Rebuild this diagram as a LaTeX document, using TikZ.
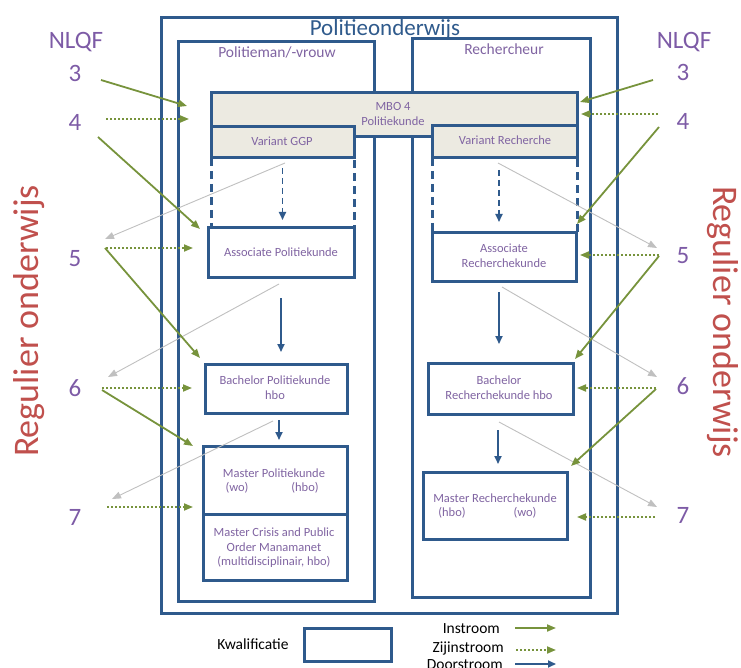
\documentclass[tikz,border=0pt]{standalone}
\usepackage{fontspec}
\setmainfont{Carlito}
\usetikzlibrary{arrows.meta}
\definecolor{dblue}{HTML}{2F5A8C}
\definecolor{purp}{HTML}{8064A2}
\definecolor{npurp}{HTML}{7D5BA6}
\definecolor{rred}{HTML}{C0504D}
\definecolor{grn}{HTML}{77933C}
\definecolor{gry}{HTML}{C0C0C0}
\definecolor{beige}{HTML}{ECEAE1}
\begin{document}
\begin{tikzpicture}[x=1pt,y=-1pt,
  bx/.style={draw=dblue, line width=3pt, rectangle, inner sep=0pt, outer sep=0pt},
  bxw/.style={bx, fill=white},
  bxb/.style={bx, fill=beige},
  dbx/.style={draw=dblue, line width=3pt, dash pattern=on 8pt off 5pt},
  lbl/.style={anchor=base, text=purp, font=\fontsize{12.5}{14}\selectfont, inner sep=0pt},
  hdr/.style={anchor=base, text=purp, font=\fontsize{15.5}{17}\selectfont, inner sep=0pt},
  num/.style={anchor=base, text=npurp, font=\fontsize{25}{28}\selectfont, inner sep=0pt},
  reg/.style={anchor=base, text=rred, font=\fontsize{36}{40}\selectfont, inner sep=0pt},
  leg/.style={anchor=base east, text=black, font=\fontsize{15.5}{17}\selectfont, inner sep=0pt},
  door/.style={draw=dblue, line width=1.8pt, -{Triangle[length=8pt,width=7pt]}},
  doord/.style={door, dash pattern=on 6pt off 4pt},
  inst/.style={draw=grn, line width=1.8pt, -{Triangle[length=9pt,width=7pt]}},
  zij/.style={draw=grn, line width=1.8pt, dash pattern=on 2pt off 2pt, -{Triangle[length=9pt,width=7pt]}},
  gar/.style={draw=gry, line width=0.9pt, -{Triangle[length=9pt,width=7pt]}}
]
\useasboundingbox (0,0) rectangle (741,668);

% frames
\node[bxw, minimum width=456pt, minimum height=595pt] (outer) at (389,315.5) {};
\node[anchor=base, text=dblue, font=\fontsize{23}{26}\selectfont, inner sep=0pt] (title) at (385,36) {Politieonderwijs};
\node[bxw, minimum width=196pt, minimum height=559pt] (lcol) at (276,321.5) {};
\node[bxw, minimum width=178pt, minimum height=558pt] (rcol) at (501,318) {};
\node[hdr] (lhdr) at (277,58) {Politieman/-vrouw};
\node[hdr] (rhdr) at (504,55) {Rechercheur};

% MBO and variants
\node[bxb, minimum width=366pt, minimum height=44pt] (mbo) at (394,115) {};
\node[lbl] (mbot1) at (393,111) {MBO 4};
\node[lbl] (mbot2) at (393,126) {Politiekunde};
\node[bxb, minimum width=143pt, minimum height=31pt] (vggp) at (282.5,142.5) {};
\node[lbl] (vggpt) at (282,146) {Variant GGP};
\node[bxb, minimum width=145pt, minimum height=32pt] (vrech) at (504.5,142) {};
\node[lbl] (vrecht) at (505,145) {Variant Recherche};

% associates
\node[bxw, minimum width=146pt, minimum height=49pt] (assp) at (281,252.5) {};
\node[lbl] (asspt) at (281,257) {Associate Politiekunde};
\node[bxw, minimum width=144pt, minimum height=48pt] (assr) at (504,257) {};
\node[lbl] (assrt1) at (504,253) {Associate};
\node[lbl] (assrt2) at (504,268) {Recherchekunde};
\draw[dbx] (211,158) rectangle (354,228);
\draw[dbx] (432,158) rectangle (577,233);

% bachelors
\node[bxw, minimum width=142pt, minimum height=49pt] (bachp) at (276,388.5) {};
\node[lbl] (bachpt1) at (275,384) {Bachelor Politiekunde};
\node[lbl] (bachpt2) at (275,399) {hbo};
\node[bxw, minimum width=145pt, minimum height=51pt] (bachr) at (500.5,388.5) {};
\node[lbl] (bachrt1) at (499,384) {Bachelor};
\node[lbl] (bachrt2) at (499,399) {Recherchekunde hbo};

% masters
\node[bxw, minimum width=144pt, minimum height=68pt] (mastp) at (275,480) {};
\node[lbl] (mastpt1) at (274,477) {Master Politiekunde};
\node[lbl] (mastpt2) at (237,491) {(wo)};
\node[lbl] (mastpt3) at (305,491) {(hbo)};
\node[bxw, minimum width=144pt, minimum height=66pt] (mastc) at (275,547) {};
\node[lbl] (mastct1) at (274,536) {Master Crisis and Public};
\node[lbl] (mastct2) at (274,551) {Order Manamanet};
\node[lbl] (mastct3) at (274,565) {(multidisciplinair, hbo)};
\node[bxw, minimum width=144pt, minimum height=67pt] (mastr) at (495,505.5) {};
\node[lbl] (mastrt1) at (495,502) {Master Recherchekunde};
\node[lbl] (mastrt2) at (452,516) {(hbo)};
\node[lbl] (mastrt3) at (525,516) {(wo)};

% doorstroom arrows
\draw[doord, shorten <=10pt, shorten >=8pt] (vggp.south) -- (vggp.south |- assp.north);
\draw[door, shorten <=21pt, shorten >=12pt] (assp.south) -- (assp.south |- bachp.north);
\draw[door, shorten <=7pt, shorten >=6pt] ([xshift=3pt]bachp.south) -- ([xshift=3pt]bachp.south |- mastp.north);
\draw[doord, shorten <=12pt, shorten >=11pt] ([xshift=-5.5pt]vrech.south) -- ([xshift=-5.5pt]vrech.south |- assr.north);
\draw[door, shorten <=11pt, shorten >=19pt] ([xshift=-5pt]assr.south) -- ([xshift=-5pt]assr.south |- bachr.north);
\draw[door, shorten <=16pt, shorten >=8pt] ([xshift=-2.5pt]bachr.south) -- ([xshift=-2.5pt]bachr.south |- mastr.north);

% side labels
\node[num] (nlqfl) at (76,49) {NLQF};
\node[num] (l3) at (75,82) {3};
\node[num] (l4) at (75,131) {4};
\node[num] (l5) at (75,266) {5};
\node[num] (l6) at (75,396) {6};
\node[num] (l7) at (75,525) {7};
\node[num] (nlqfr) at (684,49) {NLQF};
\node[num] (r3) at (683,81) {3};
\node[num] (r4) at (683,130) {4};
\node[num] (r5) at (683,264) {5};
\node[num] (r6) at (683,394) {6};
\node[num] (r7) at (683,523) {7};
\node[reg, rotate=90] (regl) at (38,321) {Regulier onderwijs};
\node[reg, rotate=-90] (regr) at (713,322) {Regulier onderwijs};

% connector end points
\coordinate (la3s) at (101,80);  \coordinate (la3e) at (187,106);
\coordinate (lz4s) at (106,119); \coordinate (lz4e) at (189,119);
\coordinate (la4s) at (98,137);  \coordinate (la4e) at (200,229);
\coordinate (lz5s) at (106,248); \coordinate (lz5e) at (193,248);
\coordinate (la5s) at (105,248); \coordinate (la5e) at (200,358);
\coordinate (lz6s) at (102,388); \coordinate (lz6e) at (192,388);
\coordinate (la6s) at (102,390); \coordinate (la6e) at (193,446);
\coordinate (lz7s) at (107,507); \coordinate (lz7e) at (193,507);
\coordinate (lg1s) at (285,163); \coordinate (lg1e) at (105,239);
\coordinate (lg2s) at (279,284); \coordinate (lg2e) at (108,377);
\coordinate (lg3s) at (273,421); \coordinate (lg3e) at (112,499);
\coordinate (ra3s) at (653,80);  \coordinate (ra3e) at (580,102);
\coordinate (rz4s) at (658,114); \coordinate (rz4e) at (581,114);
\coordinate (ra4s) at (659,127); \coordinate (ra4e) at (577,224);
\coordinate (rz5s) at (659,255); \coordinate (rz5e) at (580,255);
\coordinate (ra5s) at (659,256); \coordinate (ra5e) at (575,359);
\coordinate (rz6s) at (656,388); \coordinate (rz6e) at (577,388);
\coordinate (ra6s) at (656,389); \coordinate (ra6e) at (571,466);
\coordinate (rz7s) at (655,517); \coordinate (rz7e) at (577,517);
\coordinate (rg1s) at (498,163); \coordinate (rg1e) at (657,248);
\coordinate (rg2s) at (502,287); \coordinate (rg2e) at (657,377);
\coordinate (rg3s) at (499,422); \coordinate (rg3e) at (657,507);

% gray arrows
\draw[gar] (lg1s) -- (lg1e);
\draw[gar] (lg2s) -- (lg2e);
\draw[gar] (lg3s) -- (lg3e);
\draw[gar] (rg1s) -- (rg1e);
\draw[gar] (rg2s) -- (rg2e);
\draw[gar] (rg3s) -- (rg3e);

% green arrows
\draw[inst] (la3s) -- (la3e);
\draw[zij] (lz4s) -- (lz4e);
\draw[inst] (la4s) -- (la4e);
\draw[zij] (lz5s) -- (lz5e);
\draw[inst] (la5s) -- (la5e);
\draw[zij] (lz6s) -- (lz6e);
\draw[inst] (la6s) -- (la6e);
\draw[zij] (lz7s) -- (lz7e);
\draw[inst] (ra3s) -- (ra3e);
\draw[zij] (rz4s) -- (rz4e);
\draw[inst] (ra4s) -- (ra4e);
\draw[zij] (rz5s) -- (rz5e);
\draw[inst] (ra5s) -- (ra5e);
\draw[zij] (rz6s) -- (rz6e);
\draw[inst] (ra6s) -- (ra6e);
\draw[zij] (rz7s) -- (rz7e);

% legend
\node[anchor=base, font=\fontsize{15.5}{17}\selectfont, inner sep=0pt] (kwal) at (253,649) {Kwalificatie};
\node[bxw, minimum width=87pt, minimum height=33pt] (legbox) at (347.5,644.5) {};
\node[leg] (legi) at (500,633) {Instroom};
\node[leg] (legz) at (504,652) {Zijinstroom};
\node[leg] (legd) at (503,669) {Doorstroom};
\coordinate (li1) at (515,628); \coordinate (li2) at (556,628);
\coordinate (lzz1) at (516,650); \coordinate (lzz2) at (556,650);
\coordinate (ld1) at (515,664); \coordinate (ld2) at (556,664);
\draw[inst] (li1) -- (li2);
\draw[zij] (lzz1) -- (lzz2);
\draw[door] (ld1) -- (ld2);
\end{tikzpicture}
\end{document}
